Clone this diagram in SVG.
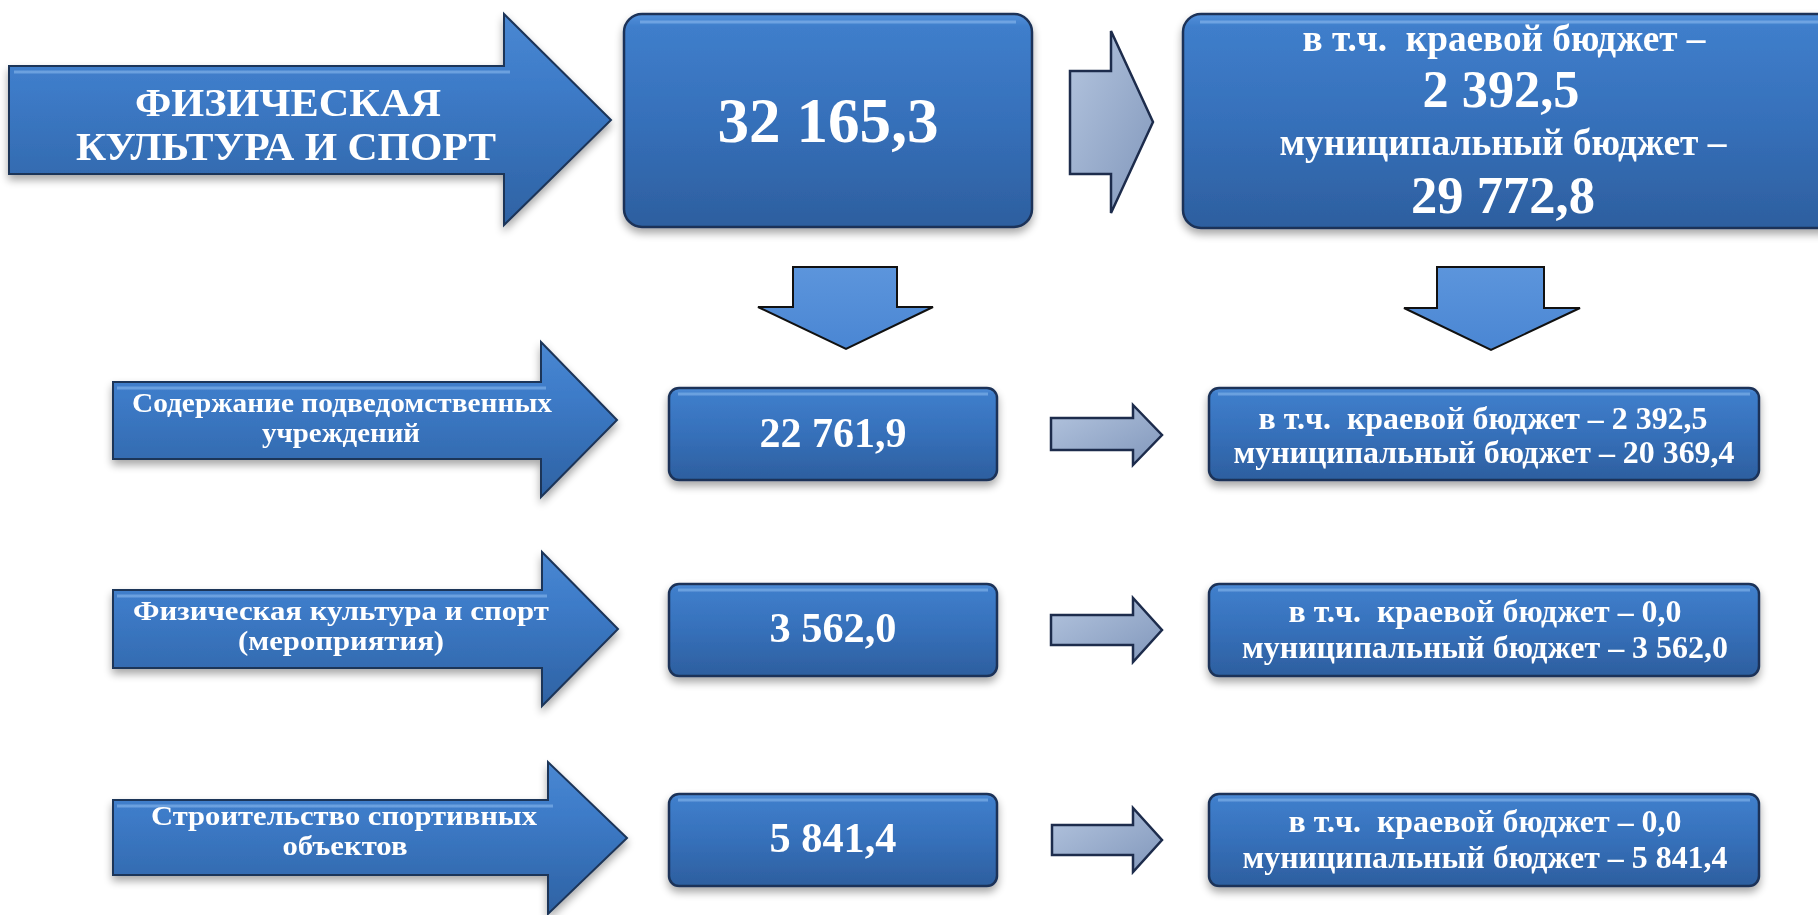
<svg xmlns="http://www.w3.org/2000/svg" width="1818" height="915" viewBox="0 0 1818 915">
<defs>
<linearGradient id="gBox" x1="0" y1="0" x2="0" y2="1">
<stop offset="0" stop-color="#5290da"/>
<stop offset="0.06" stop-color="#3f7ecb"/>
<stop offset="0.5" stop-color="#3670ba"/>
<stop offset="1" stop-color="#2d5f9f"/>
</linearGradient>
<linearGradient id="gArrow" x1="0" y1="0" x2="0" y2="1">
<stop offset="0" stop-color="#4a88d2"/>
<stop offset="0.35" stop-color="#3d7bc8"/>
<stop offset="1" stop-color="#2e62a3"/>
</linearGradient>
<linearGradient id="gGrey" x1="0" y1="0" x2="1" y2="1">
<stop offset="0" stop-color="#b4c5df"/>
<stop offset="1" stop-color="#8197bb"/>
</linearGradient>
<linearGradient id="gDown" x1="0" y1="0" x2="0" y2="1">
<stop offset="0" stop-color="#5c95dc"/>
<stop offset="1" stop-color="#4a86d3"/>
</linearGradient>
<filter id="sh" x="-10%" y="-10%" width="120%" height="130%">
<feGaussianBlur in="SourceAlpha" stdDeviation="4"/>
<feOffset dx="0" dy="5" result="b"/>
<feComponentTransfer><feFuncA type="linear" slope="0.35"/></feComponentTransfer>
<feMerge><feMergeNode/><feMergeNode in="SourceGraphic"/></feMerge>
</filter>
</defs>
<style>
.box{fill:url(#gBox);stroke:#1b3358;stroke-width:2.5}
.arr{fill:url(#gArrow);stroke:#1c3458;stroke-width:2}
.grey{fill:url(#gGrey);stroke:#1d2c4c;stroke-width:2.5}
.down{fill:url(#gDown);stroke:#111;stroke-width:2}
.hl{fill:none;stroke:#8fbdf0;stroke-width:3;opacity:0.55}
.t{font-family:"Liberation Serif","Times New Roman",serif;font-weight:bold;fill:#fff;text-anchor:middle;white-space:pre}
</style>
<rect width="1818" height="915" fill="#fff"/>

<g id="node-main-arrow" filter="url(#sh)">
<path class="arr" d="M9,66 H504 V14 L611,120 L504,225 V174 H9 Z"/>
<path class="hl" d="M14,72 H510"/>
<text class="t" x="288" y="116" font-size="41" textLength="306" lengthAdjust="spacingAndGlyphs">ФИЗИЧЕСКАЯ</text>
<text class="t" x="286" y="160" font-size="41" textLength="420" lengthAdjust="spacingAndGlyphs">КУЛЬТУРА И СПОРТ</text>
</g>

<g id="node-total" filter="url(#sh)">
<rect class="box" x="624" y="14" width="408" height="213" rx="18"/>
<path class="hl" d="M640,22 H1016"/>
<text class="t" x="828" y="142" font-size="64" textLength="221" lengthAdjust="spacingAndGlyphs">32 165,3</text>
</g>

<g id="node-total-split" filter="url(#sh)">
<rect class="box" x="1183" y="14" width="660" height="214" rx="18"/>
<path class="hl" d="M1200,22 H1830"/>
<text class="t" x="1504" y="51" font-size="37" textLength="403" lengthAdjust="spacingAndGlyphs" xml:space="preserve">в т.ч.  краевой бюджет –</text>
<text class="t" x="1501" y="107" font-size="53" textLength="157" lengthAdjust="spacingAndGlyphs">2 392,5</text>
<text class="t" x="1503" y="155" font-size="37" textLength="447" lengthAdjust="spacingAndGlyphs">муниципальный бюджет –</text>
<text class="t" x="1503" y="213" font-size="53" textLength="184" lengthAdjust="spacingAndGlyphs">29 772,8</text>
</g>

<g id="node-cat1" filter="url(#sh)">
<path class="arr" d="M113,382 H541 V342 L617,420 L541,497 V459 H113 Z"/>
<path class="hl" d="M117,388 H546"/>
<text class="t" x="342" y="412" font-size="28" textLength="420" lengthAdjust="spacingAndGlyphs">Содержание подведомственных</text>
<text class="t" x="341" y="442" font-size="28" textLength="158" lengthAdjust="spacingAndGlyphs">учреждений</text>
</g>
<g id="node-cat2" filter="url(#sh)">
<path class="arr" d="M113,590 H542 V552 L618,629 L542,706 V668 H113 Z"/>
<path class="hl" d="M117,596 H547"/>
<text class="t" x="341" y="620" font-size="28" textLength="416" lengthAdjust="spacingAndGlyphs">Физическая культура и спорт</text>
<text class="t" x="341" y="650" font-size="28" textLength="206" lengthAdjust="spacingAndGlyphs">(мероприятия)</text>
</g>
<g id="node-cat3" filter="url(#sh)">
<path class="arr" d="M113,800 H548 V762 L627,838 L548,914 V875 H113 Z"/>
<path class="hl" d="M117,806 H553"/>
<text class="t" x="344" y="825" font-size="28" textLength="386" lengthAdjust="spacingAndGlyphs">Строительство спортивных</text>
<text class="t" x="345" y="855" font-size="28" textLength="125" lengthAdjust="spacingAndGlyphs">объектов</text>
</g>

<g id="node-val1" filter="url(#sh)">
<rect class="box" x="669" y="388" width="328" height="92" rx="10"/>
<path class="hl" d="M678,394 H988"/>
<text class="t" x="833" y="447" font-size="42" textLength="147" lengthAdjust="spacingAndGlyphs">22 761,9</text>
</g>
<g id="node-val2" filter="url(#sh)">
<rect class="box" x="669" y="584" width="328" height="92" rx="10"/>
<path class="hl" d="M678,590 H988"/>
<text class="t" x="833" y="642" font-size="42" textLength="127" lengthAdjust="spacingAndGlyphs">3 562,0</text>
</g>
<g id="node-val3" filter="url(#sh)">
<rect class="box" x="669" y="794" width="328" height="92" rx="10"/>
<path class="hl" d="M678,800 H988"/>
<text class="t" x="833" y="852" font-size="42" textLength="127" lengthAdjust="spacingAndGlyphs">5 841,4</text>
</g>

<g id="node-split1" filter="url(#sh)">
<rect class="box" x="1209" y="388" width="550" height="92" rx="10"/>
<path class="hl" d="M1218,394 H1750"/>
<text class="t" x="1483" y="429" font-size="31" textLength="449" lengthAdjust="spacingAndGlyphs" xml:space="preserve">в т.ч.  краевой бюджет – 2 392,5</text>
<text class="t" x="1484" y="463" font-size="31" textLength="501" lengthAdjust="spacingAndGlyphs">муниципальный бюджет – 20 369,4</text>
</g>
<g id="node-split2" filter="url(#sh)">
<rect class="box" x="1209" y="584" width="550" height="92" rx="10"/>
<path class="hl" d="M1218,590 H1750"/>
<text class="t" x="1485" y="622" font-size="31" textLength="393" lengthAdjust="spacingAndGlyphs" xml:space="preserve">в т.ч.  краевой бюджет – 0,0</text>
<text class="t" x="1485" y="658" font-size="31" textLength="486" lengthAdjust="spacingAndGlyphs">муниципальный бюджет – 3 562,0</text>
</g>
<g id="node-split3" filter="url(#sh)">
<rect class="box" x="1209" y="794" width="550" height="92" rx="10"/>
<path class="hl" d="M1218,800 H1750"/>
<text class="t" x="1485" y="832" font-size="31" textLength="393" lengthAdjust="spacingAndGlyphs" xml:space="preserve">в т.ч.  краевой бюджет – 0,0</text>
<text class="t" x="1485" y="868" font-size="31" textLength="485" lengthAdjust="spacingAndGlyphs">муниципальный бюджет – 5 841,4</text>
</g>

<g id="connectors">
<path class="grey" d="M1070,71 H1111 V31 L1153,122 L1111,213 V174 H1070 Z"/>
<path class="down" d="M793,267 H897 V307 H933 L846,349 L758,307 H793 Z"/>
<path class="down" d="M1437,267 H1544 V308 H1580 L1491,350 L1404,308 H1437 Z"/>
<path class="grey" d="M1051,418 H1133 V405 L1162,435 L1133,465 V450 H1051 Z"/>
<path class="grey" d="M1051,615 H1133 V598 L1162,630 L1133,662 V645 H1051 Z"/>
<path class="grey" d="M1052,825 H1133 V808 L1162,840 L1133,872 V855 H1052 Z"/>
</g>
</svg>
